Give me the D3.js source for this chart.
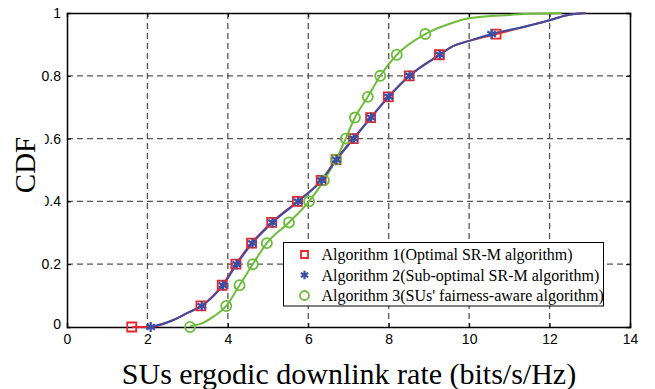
<!DOCTYPE html>
<html><head><meta charset="utf-8">
<script src="https://cdn.jsdelivr.net/npm/d3@7"></script>
<style>body{margin:0;background:#fff}svg{display:block}</style>
</head><body>
<script>
const xTicks = [0,2,4,6,8,10,12,14];
const yTicks = [0,0.2,0.4,0.6,0.8,1];
const yTickLabels = ["0","0.2","0.4","0.6","0.8","1"];
const cdfLevels = [0,0.067,0.133,0.2,0.267,0.333,0.4,0.467,0.533,0.6,0.667,0.733,0.8,0.867,0.933];
const alg1MarkX = [1.61,3.33,3.86,4.20,4.59,5.09,5.73,6.32,6.69,7.12,7.55,7.99,8.51,9.26,10.67];
const alg2MarkX = [2.08,3.35,3.88,4.22,4.61,5.11,5.75,6.33,6.70,7.13,7.56,8.00,8.52,9.27,10.56];
const alg3MarkX = [3.06,3.96,4.29,4.62,4.97,5.52,6.02,6.39,6.69,6.93,7.16,7.48,7.79,8.20,8.91];
const alg1LineX = [1.61,2.08,2.6,3.0,3.33,3.86,4.20,4.59,5.09,5.73,6.32,6.69,7.12,7.55,7.99,8.51,9.26,9.53,10.02,10.67,11.5,12.0,12.43,12.89];
const alg1LineY = [0,0,0.02,0.045,0.067,0.133,0.2,0.267,0.333,0.4,0.467,0.533,0.6,0.667,0.733,0.8,0.867,0.89,0.912,0.933,0.96,0.977,0.993,1];
const alg2LineX = [2.08,2.6,3.0,3.35,3.88,4.22,4.61,5.11,5.75,6.33,6.70,7.13,7.56,8.00,8.52,9.27,9.53,10.02,10.56,11.5,12.0,12.43,12.89];
const alg2LineY = [0,0.02,0.045,0.067,0.133,0.2,0.267,0.333,0.4,0.467,0.533,0.6,0.667,0.733,0.8,0.867,0.89,0.912,0.933,0.96,0.977,0.993,1];
const alg3LineX = [3.06,3.3,3.64,3.96,4.29,4.62,4.97,5.52,6.02,6.39,6.69,6.93,7.16,7.48,7.79,8.20,8.91,9.5,10.0,11.0,12.3];
const alg3LineY = [0.003,0.009,0.033,0.067,0.133,0.2,0.267,0.333,0.4,0.467,0.533,0.6,0.667,0.733,0.8,0.867,0.933,0.965,0.983,0.994,1];
const legendLabels = ["Algorithm 1(Optimal SR-M algorithm)","Algorithm 2(Sub-optimal SR-M algorithm)","Algorithm 3(SUs' fairness-aware algorithm)"];
const colors = ["#e8262b","#3a4ea6","#6cbd3a"];

const W=655,H=389;
const L=67,R=630,T=13,B=327;
const svg=d3.select("body").append("svg").attr("width",W).attr("height",H);
const x=d3.scaleLinear().domain([0,14]).range([L,R]);
const y=d3.scaleLinear().domain([0,1]).range([B,T]);

// grid
const g=svg.append("g");
g.selectAll(".vg").data(xTicks.slice(1,-1)).join("line")
 .attr("x1",d=>x(d)).attr("x2",d=>x(d)).attr("y1",T).attr("y2",B)
 .attr("stroke","#555").attr("stroke-width",1.3).attr("stroke-dasharray","6,4");
g.selectAll(".hg").data(yTicks.slice(1,-1)).join("line")
 .attr("x1",L).attr("x2",R).attr("y1",d=>y(d)).attr("y2",d=>y(d))
 .attr("stroke","#555").attr("stroke-width",1.3).attr("stroke-dasharray","6,4");

// axes
const fontSans="'Liberation Sans', Arial, sans-serif";
const fontSerif="'Liberation Serif', 'Times New Roman', serif";
const xAx=svg.append("g").attr("transform",`translate(0,${B})`)
 .call(d3.axisBottom(x).tickValues(xTicks).tickSize(-4).tickPadding(7).tickFormat(d3.format("d")));
const xAxT=svg.append("g").attr("transform",`translate(0,${T})`)
 .call(d3.axisTop(x).tickValues(xTicks).tickSize(-4).tickFormat(""));
const yAx=svg.append("g").attr("transform",`translate(${L},0)`)
 .call(d3.axisLeft(y).tickValues(yTicks).tickSize(-4).tickPadding(6).tickFormat((d,i)=>yTickLabels[i]));
const yAxR=svg.append("g").attr("transform",`translate(${R},0)`)
 .call(d3.axisRight(y).tickValues(yTicks).tickSize(-4).tickFormat(""));
[xAx,xAxT,yAx,yAxR].forEach(a=>{
  a.select(".domain").attr("stroke","#000").attr("stroke-width",1.5);
  a.selectAll(".tick line").attr("stroke","#000");
  a.selectAll("text").attr("font-family",fontSans).attr("font-size",14).attr("fill","#000");
});
yAx.select(".tick text").attr("dy","0.1em");

// lines
const lines=[[alg1LineX,alg1LineY],[alg3LineX,alg3LineY],[alg2LineX,alg2LineY]];
const lineColors=[colors[0],colors[2],colors[1]];
const lg=d3.line().x(d=>x(d[0])).y(d=>y(d[1])).curve(d3.curveMonotoneX);
lines.forEach((l,i)=>{
  svg.append("path").datum(l[0].map((v,j)=>[v,l[1][j]]))
   .attr("d",lg).attr("fill","none").attr("stroke",lineColors[i]).attr("stroke-width",2);
});

// markers
const sq=d3.symbol().type(d3.symbolSquare).size(81);
const ci=d3.symbol().type(d3.symbolCircle).size(80);
const st=d3.symbol().type(d3.symbolAsterisk).size(70);
svg.append("g").selectAll("path").data(alg1MarkX.map((v,i)=>[v,cdfLevels[i]])).join("path")
 .attr("transform",d=>`translate(${x(d[0])},${y(d[1])})`).attr("d",sq)
 .attr("fill","none").attr("stroke",colors[0]).attr("stroke-width",1.8);
svg.append("g").selectAll("path").data(alg3MarkX.map((v,i)=>[v,cdfLevels[i]])).join("path")
 .attr("transform",d=>`translate(${x(d[0])},${y(d[1])})`).attr("d",ci)
 .attr("fill","none").attr("stroke",colors[2]).attr("stroke-width",1.8);
svg.append("g").selectAll("path").data(alg2MarkX.map((v,i)=>[v,cdfLevels[i]])).join("path")
 .attr("transform",d=>`translate(${x(d[0])},${y(d[1])})`).attr("d",st)
 .attr("fill","none").attr("stroke",colors[1]).attr("stroke-width",2.3);

// legend
const leg=svg.append("g");
leg.append("rect").attr("x",283.5).attr("y",242.5).attr("width",320).attr("height",63.5)
 .attr("fill","#fff").attr("stroke","#000").attr("stroke-width",1);
const rowY=[254.5,275,295.5];
const legSyms=[d3.symbol().type(d3.symbolSquare).size(49),d3.symbol().type(d3.symbolAsterisk).size(50),d3.symbol().type(d3.symbolCircle).size(64)];
legendLabels.forEach((t,i)=>{
  leg.append("path").attr("transform",`translate(304.5,${rowY[i]})`).attr("d",legSyms[i])
   .attr("fill","none").attr("stroke",colors[i]).attr("stroke-width",i===1?2.2:1.8);
  leg.append("text").attr("x",321.5).attr("y",rowY[i]).attr("dy","0.36em")
   .attr("font-family",fontSerif).attr("font-size",16).text(t);
});

// cover + axis titles
svg.append("rect").attr("x",0).attr("y",122).attr("width",45).attr("height",92).attr("fill","#fff");
svg.append("text").attr("transform","translate(35,165) rotate(-90)").attr("text-anchor","middle")
 .attr("font-family",fontSerif).attr("font-size",29).text("CDF");
svg.append("text").attr("x",349).attr("y",384).attr("text-anchor","middle")
 .attr("font-family",fontSerif).attr("font-size",30).text("SUs ergodic downlink rate (bits/s/Hz)");
</script>
</body></html>
